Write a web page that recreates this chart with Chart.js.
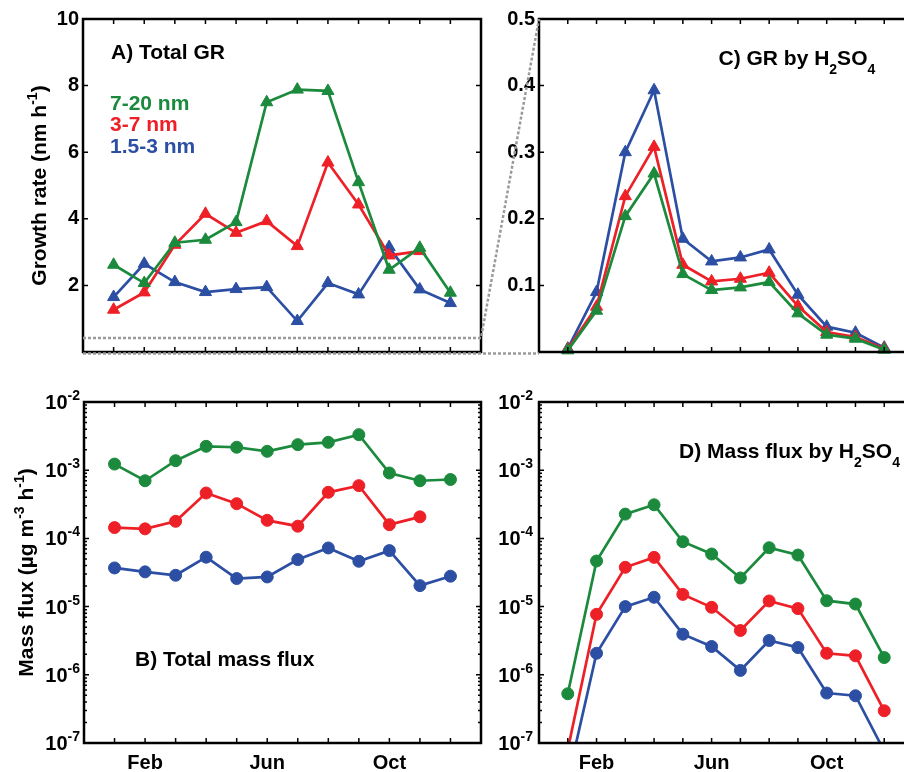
<!DOCTYPE html>
<html>
<head>
<meta charset="utf-8">
<script src="https://cdn.jsdelivr.net/npm/chart.js@4.4.0/dist/chart.umd.min.js"></script>
<style>
  html, body { margin: 0; padding: 0; background: #fff; overflow: hidden; width: 904px; height: 772px; }
  #wrap { position: relative; width: 930px; height: 772px; }
  canvas { position: absolute; }
</style>
</head>
<body>
<div id="wrap">
  <canvas id="cA" width="490" height="380" style="left:0px;top:0px"></canvas>
  <canvas id="cC" width="440" height="380" style="left:490px;top:0px"></canvas>
  <canvas id="cB" width="490" height="392" style="left:0px;top:380px"></canvas>
  <canvas id="cD" width="440" height="392" style="left:490px;top:380px"></canvas>
  <canvas id="links" width="904" height="772" style="left:0px;top:0px"></canvas>
</div>
<script>
// months and tick labels
const months = ["Jan", "Feb", "Mar", "Apr", "May", "Jun", "Jul", "Aug", "Sep", "Oct", "Nov", "Dec"];
const labeledMonths = ["Feb", "Jun", "Oct"];
const sizeBins = ["7-20 nm", "3-7 nm", "1.5-3 nm"];
const binColors = ["#1b8a3c", "#ee2027", "#2c4fa3"];

const grTicks = [2, 4, 6, 8, 10];
const grH2so4Ticks = [0.1, 0.2, 0.3, 0.4, 0.5];
const fluxDecades = [1e-7, 1e-6, 1e-5, 1e-4, 1e-3, 1e-2];
const zoomTop = 0.42; // dashed level in A that is blown up in C

// A) Total GR (nm h-1)
const grTotal_7_20 = [2.62, 2.07, 3.28, 3.37, 3.90, 7.50, 7.88, 7.84, 5.10, 2.47, 3.13, 1.78];
const grTotal_3_7 = [1.27, 1.79, 3.22, 4.15, 3.58, 3.93, 3.18, 5.69, 4.43, 2.90, 3.03, null];
const grTotal_15_3 = [1.65, 2.65, 2.10, 1.80, 1.89, 1.95, 0.93, 2.07, 1.73, 3.15, 1.88, 1.47];

// C) GR by H2SO4
const grAcid_7_20 = [0.0025, 0.062, 0.204, 0.268, 0.117, 0.093, 0.097, 0.105, 0.058, 0.026, 0.020, 0.0035];
const grAcid_3_7 = [0.004, 0.068, 0.234, 0.308, 0.131, 0.106, 0.110, 0.119, 0.069, 0.030, 0.0225, 0.005];
const grAcid_15_3 = [0.005, 0.090, 0.300, 0.393, 0.170, 0.136, 0.142, 0.154, 0.086, 0.038, 0.029, 0.0065];

// B) Total mass flux (ug m-3 h-1)
const fluxTotal_7_20 = [1.23e-3, 7.0e-4, 1.38e-3, 2.24e-3, 2.17e-3, 1.89e-3, 2.37e-3, 2.56e-3, 3.32e-3, 9.1e-4, 7.0e-4, 7.3e-4];
const fluxTotal_3_7 = [1.44e-4, 1.38e-4, 1.78e-4, 4.63e-4, 3.23e-4, 1.84e-4, 1.51e-4, 4.74e-4, 5.94e-4, 1.59e-4, 2.07e-4, null];
const fluxTotal_15_3 = [3.69e-5, 3.23e-5, 2.88e-5, 5.3e-5, 2.58e-5, 2.72e-5, 4.89e-5, 7.24e-5, 4.62e-5, 6.62e-5, 2.03e-5, 2.79e-5];

// D) Mass flux by H2SO4
const fluxAcid_7_20 = [5.27e-7, 4.66e-5, 2.27e-4, 3.11e-4, 8.93e-5, 5.9e-5, 2.63e-5, 7.3e-5, 5.7e-5, 1.22e-5, 1.09e-5, 1.79e-6];
const fluxAcid_3_7 = [8e-8, 7.7e-6, 3.77e-5, 5.27e-5, 1.51e-5, 9.77e-6, 4.46e-6, 1.21e-5, 9.35e-6, 2.07e-6, 1.9e-6, 2.97e-7];
const fluxAcid_15_3 = [2.9e-8, 2.07e-6, 1.0e-5, 1.37e-5, 3.94e-6, 2.6e-6, 1.16e-6, 3.18e-6, 2.51e-6, 5.4e-7, 4.93e-7, 7.6e-8];

const FONT = '"Liberation Sans", Arial, sans-serif';
Chart.defaults.font = { family: FONT, size: 20, weight: "bold" };
Chart.defaults.color = "#000";

// text with super/subscripts: parts = [[text, kind]], kind 1 = sup, -1 = sub
function drawParts(ctx, parts, x, y, align, size) {
  size = size || 21;
  const fontFor = (k) => "bold " + (k ? 14 : size) + "px " + FONT;
  let w = 0;
  parts.forEach(([t, k]) => { ctx.font = fontFor(k); w += ctx.measureText(t).width; });
  let cx = align === "center" ? x - w / 2 : align === "right" ? x - w : x;
  ctx.textAlign = "left";
  ctx.textBaseline = "alphabetic";
  parts.forEach(([t, k]) => {
    ctx.font = fontFor(k);
    ctx.fillText(t, cx, y + (k === 1 ? -9 : k === -1 ? 9 : 0));
    cx += ctx.measureText(t).width;
  });
}

const matlabFrame = {
  id: "matlabFrame",
  afterDraw(chart, args, opts) {
    const ctx = chart.ctx;
    const a = chart.chartArea;
    const xs = chart.scales.x;
    const ys = chart.scales.y;
    ctx.save();
    ctx.strokeStyle = "#000";
    ctx.lineWidth = 1.5;
    ctx.beginPath();
    xs.ticks.forEach((t) => {
      const px = xs.getPixelForValue(t.value);
      ctx.moveTo(px, a.bottom); ctx.lineTo(px, a.bottom - 5);
      ctx.moveTo(px, a.top); ctx.lineTo(px, a.top + 5);
    });
    ys.ticks.forEach((t) => {
      const py = ys.getPixelForValue(t.value);
      ctx.moveTo(a.left, py); ctx.lineTo(a.left + 5, py);
      ctx.moveTo(a.right, py); ctx.lineTo(a.right - 5, py);
    });
    if (ys.type === "logarithmic") {
      ys.ticks.slice(0, -1).forEach((t) => {
        for (let k = 2; k <= 9; k++) {
          const py = ys.getPixelForValue(t.value * k);
          ctx.moveTo(a.left, py); ctx.lineTo(a.left + 3, py);
          ctx.moveTo(a.right, py); ctx.lineTo(a.right - 3, py);
        }
      });
    }
    ctx.stroke();
    ctx.lineWidth = 2.5;
    ctx.strokeRect(a.left, a.top, a.right - a.left, a.bottom - a.top);

    ctx.fillStyle = "#000";
    if (ys.type === "logarithmic") {
      ys.ticks.forEach((t) => {
        const py = ys.getPixelForValue(t.value);
        const e = Math.round(Math.log10(t.value));
        drawParts(ctx, [["10", 0], [String(e), 1]], a.left - opts.labelGap, py + 7, "right", 20);
      });
    }
    // y title, rotated
    ctx.save();
    ctx.translate(a.left + opts.titleX, (a.top + a.bottom) / 2);
    ctx.rotate(-Math.PI / 2);
    if (opts.yTitle) drawParts(ctx, opts.yTitle, 0, 0, "center");
    ctx.restore();
    // panel label
    drawParts(ctx, opts.panel, a.left + opts.panelPos[0], a.top + opts.panelPos[1], "left");
    // legend as coloured text
    if (opts.legendPos) {
      chart.data.datasets.forEach((ds, i) => {
        ctx.fillStyle = ds.borderColor;
        drawParts(ctx, [[ds.label, 0]], a.left + opts.legendPos[0], a.top + opts.legendPos[1] + i * 21.3, "left");
      });
    }
    ctx.restore();
  },
};

function series(values, i, style) {
  return {
    label: sizeBins[i],
    data: values.map((v, k) => ({ x: k + 1, y: v })),
    borderColor: binColors[i],
    backgroundColor: binColors[i],
    pointStyle: style,
    pointRadius: style === "triangle" ? 7 : 6,
    pointBorderWidth: 1,
    borderWidth: 2.7,
    spanGaps: false,
  };
}

function makeChart(id, datasets, cfg) {
  return new Chart(document.getElementById(id), {
    type: "line",
    data: { datasets: datasets.map((d) => Object.assign(d, { clip: cfg.clip })) },
    options: {
      responsive: false,
      animation: false,
      events: [],
      layout: { padding: { left: 0, top: cfg.top, right: cfg.right, bottom: 0 } },
      plugins: { legend: { display: false }, tooltip: { enabled: false }, matlabFrame: cfg.frame },
      scales: {
        x: {
          type: "linear",
          min: 0,
          max: 13,
          afterBuildTicks: (s) => { s.ticks = months.map((m, i) => ({ value: i + 1 })); },
          afterFit: (s) => { s.height = cfg.xHeight; },
          grid: { display: false, drawTicks: false },
          border: { display: false },
          ticks: {
            display: cfg.xLabels,
            autoSkip: false,
            maxRotation: 0,
            padding: 8,
            callback: (v) => (labeledMonths.includes(months[v - 1]) ? months[v - 1] : ""),
          },
        },
        y: {
          type: cfg.yType,
          min: cfg.yMin,
          max: cfg.yMax,
          afterBuildTicks: (s) => { s.ticks = cfg.yTicks.map((v) => ({ value: v })); },
          afterFit: (s) => { s.width = cfg.yWidth; },
          grid: { display: false, drawTicks: false },
          border: { display: false },
          ticks: {
            display: cfg.yType === "linear",
            padding: 4,
            callback: cfg.yFormat,
          },
        },
      },
    },
    plugins: [matlabFrame],
  });
}

const chartA = makeChart("cA",
  [series(grTotal_7_20, 0, "triangle"), series(grTotal_3_7, 1, "triangle"), series(grTotal_15_3, 2, "triangle")],
  {
    top: 19, right: 9, xHeight: 28, yWidth: 83, clip: 8,
    yType: "linear", yMin: 0, yMax: 10, yTicks: grTicks, yFormat: (v) => String(v), xLabels: false,
    frame: {
      panel: [["A) Total GR", 0]], panelPos: [28, 40],
      legendPos: [27, 91],
      yTitle: [["Growth rate (nm h", 0], ["-1", 1], [")", 0]], titleX: -37.5,
    },
  });

const chartC = makeChart("cC",
  [series(grAcid_7_20, 0, "triangle"), series(grAcid_3_7, 1, "triangle"), series(grAcid_15_3, 2, "triangle")],
  {
    top: 19, right: 17, xHeight: 28, yWidth: 49, clip: 8,
    yType: "linear", yMin: 0, yMax: 0.5, yTicks: grH2so4Ticks, yFormat: (v) => v.toFixed(1), xLabels: false,
    frame: {
      panel: [["C) GR by H", 0], ["2", -1], ["SO", 0], ["4", -1]], panelPos: [179.5, 46],
      titleX: 0,
    },
  });

const chartB = makeChart("cB",
  [series(fluxTotal_7_20, 0, "circle"), series(fluxTotal_3_7, 1, "circle"), series(fluxTotal_15_3, 2, "circle")],
  {
    top: 22, right: 9, xHeight: 29, yWidth: 84, clip: 8,
    yType: "logarithmic", yMin: 1e-7, yMax: 1e-2, yTicks: fluxDecades, xLabels: true,
    frame: {
      panel: [["B) Total mass flux", 0]], panelPos: [51, 264],
      yTitle: [["Mass flux (\u00b5g m", 0], ["-3", 1], [" h", 0], ["-1", 1], [")", 0]], titleX: -51,
      labelGap: 4,
    },
  });

const chartD = makeChart("cD",
  [series(fluxAcid_7_20, 0, "circle"), series(fluxAcid_3_7, 1, "circle"), series(fluxAcid_15_3, 2, "circle")],
  {
    top: 22, right: 17, xHeight: 29, yWidth: 49, clip: 0,
    yType: "logarithmic", yMin: 1e-7, yMax: 1e-2, yTicks: fluxDecades, xLabels: true,
    frame: {
      panel: [["D) Mass flux by H", 0], ["2", -1], ["SO", 0], ["4", -1]], panelPos: [140, 56],
      titleX: 0, labelGap: 6,
    },
  });

// dashed zoom lines linking A to C
function drawLinks() {
  const cv = document.getElementById("links");
  const ctx = cv.getContext("2d");
  const offA = [chartA.canvas.offsetLeft, chartA.canvas.offsetTop];
  const offC = [chartC.canvas.offsetLeft, chartC.canvas.offsetTop];
  const a = chartA.chartArea;
  const c = chartC.chartArea;
  const yZoom = offA[1] + chartA.scales.y.getPixelForValue(zoomTop);
  const yZeroA = offA[1] + chartA.scales.y.getPixelForValue(0) + 1.5;
  const yTopC = offC[1] + chartC.scales.y.getPixelForValue(0.5);
  const yZeroC = offC[1] + chartC.scales.y.getPixelForValue(0) + 1.5;
  ctx.strokeStyle = "#9a9a9a";
  ctx.lineWidth = 2.5;
  ctx.setLineDash([3, 2]);
  ctx.beginPath();
  ctx.moveTo(offA[0] + a.left, yZoom);
  ctx.lineTo(offA[0] + a.right, yZoom);
  ctx.lineTo(offC[0] + c.left, yTopC);
  ctx.moveTo(offA[0] + a.left, yZeroA);
  ctx.lineTo(offC[0] + c.left, yZeroC);
  ctx.stroke();
}
drawLinks();
</script>
</body>
</html>
